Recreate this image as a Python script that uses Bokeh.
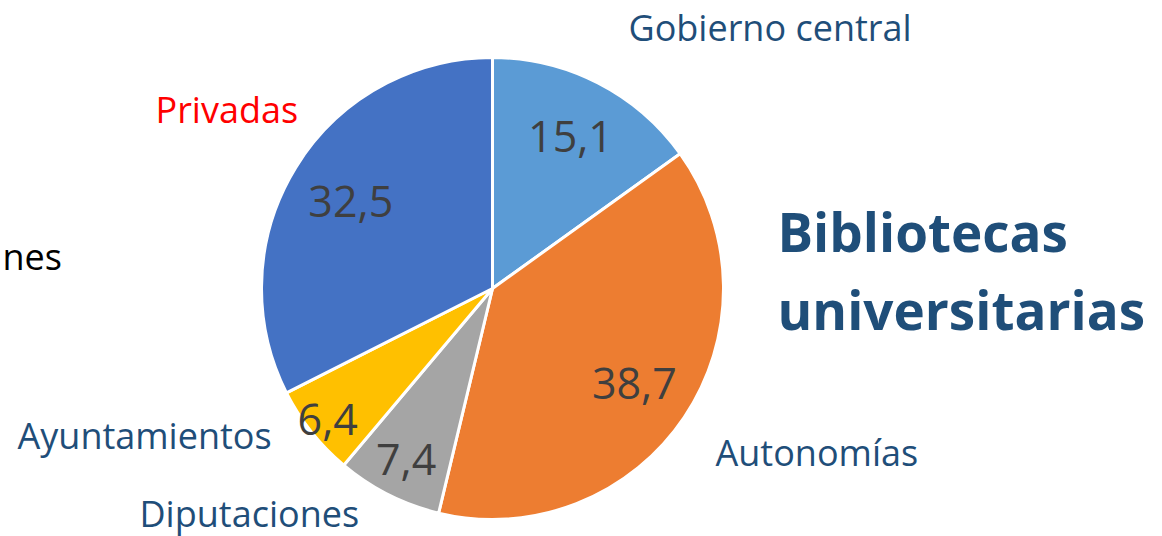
import math
from bokeh.plotting import figure
from bokeh.models import Range1d, ColumnDataSource
from bokeh.core.properties import value
from bokeh.embed import file_html
from bokeh.resources import INLINE

# ---- data ----
categories = ["Gobierno central", "Autonomías", "Diputaciones", "Ayuntamientos", "Privadas"]
shares = [15.1, 38.7, 7.4, 6.4, 32.5]
slice_colors = ["#5B9BD5", "#ED7D31", "#A5A5A5", "#FFC000", "#4472C4"]
label_colors = ["#1F4E79", "#1F4E79", "#1F4E79", "#1F4E79", "#FF0000"]
title_lines = ["Bibliotecas", "universitarias"]
clipped_label = "nes"

# ---- layout (page pixel coords -> data coords) ----
W, H = 1162, 536
def px(X):
    return X
def py(Y):
    return H - Y

cx, cy, R = px(492), py(288), 231
inner_r = [0.74, 0.74, 0.83, 0.91, 0.72]
label_pos = [(628, 27), (715, 452), (139, 513), (17, 435), (155, 109)]

total = sum(shares)
starts, ends, mids = [], [], []
acc = 0.0
for v in shares:
    a0 = math.pi / 2 - 2 * math.pi * acc / total
    acc += v
    a1 = math.pi / 2 - 2 * math.pi * acc / total
    starts.append(a0)
    ends.append(a1)
    mids.append((a0 + a1) / 2)

p = figure(width=W, height=H, output_backend="svg", toolbar_location=None,
           x_range=Range1d(0, W), y_range=Range1d(0, H),
           x_axis_type=None, y_axis_type=None, min_border=0)
p.grid.visible = False
p.outline_line_color = None
p.background_fill_color = "white"

src = ColumnDataSource(dict(start=starts, end=ends, color=slice_colors))
p.wedge(x=cx, y=cy, radius=R, start_angle="start", end_angle="end",
        direction="clock", fill_color="color", line_color="white", line_width=3,
        source=src)

# value labels inside slices
vx = [cx + R * f * math.cos(m) for f, m in zip(inner_r, mids)]
vy = [cy + R * f * math.sin(m) for f, m in zip(inner_r, mids)]
vt = [f"{v:.1f}".replace(".", ",") for v in shares]
p.text(x=vx, y=vy, text=vt, text_font=value("Open Sans"), text_font_size="43px",
       text_color="#3F3F3F", text_align="center", text_baseline="middle")

# category labels
p.text(x=[px(a) for a, b in label_pos], y=[py(b) for a, b in label_pos], text=categories,
       text_font=value("Open Sans"), text_font_size="36px", text_color=label_colors,
       text_align="left", text_baseline="alphabetic")

p.text(x=[px(2)], y=[py(256)], text=[clipped_label], text_font=value("Open Sans"),
       text_font_size="36px", text_color="black", text_align="left",
       text_baseline="alphabetic")

# title
p.text(x=[px(777), px(777)], y=[py(231), py(309)], text=title_lines,
       text_font=value("Open Sans"), text_font_size="53px", text_font_style="bold",
       text_color="#1F4E79", text_align="left", text_baseline="alphabetic")

open("out.html", "w").write(file_html(p, INLINE))
